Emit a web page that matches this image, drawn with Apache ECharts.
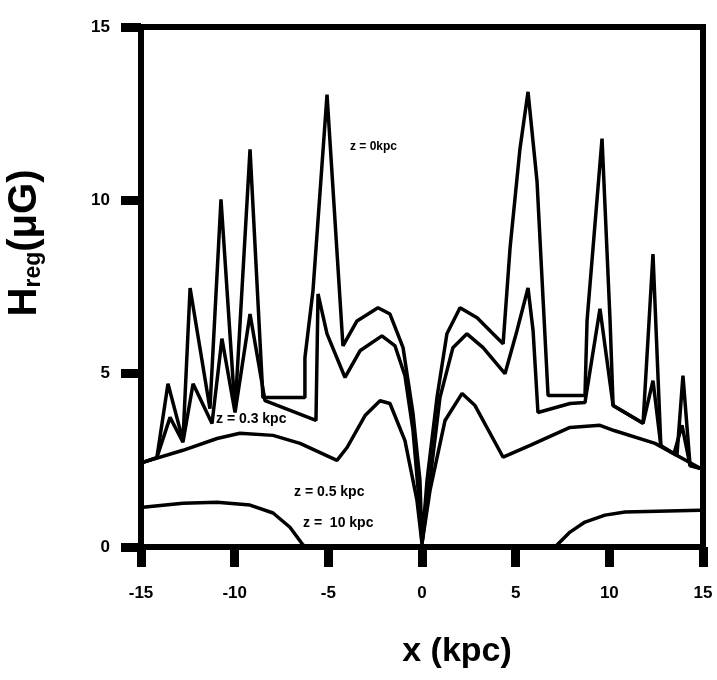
<!DOCTYPE html>
<html>
<head>
<meta charset="utf-8">
<script src="https://cdn.jsdelivr.net/npm/echarts@6/dist/echarts.min.js"></script>
<style>
  html, body { margin: 0; padding: 0; background: #fff; }
  #chart { width: 717px; height: 680px; }
</style>
</head>
<body>
<div id="chart"></div>
<script>
// field strength H_reg (uG) against x (kpc), one line per height z
const xTicks = [-15, -10, -5, 0, 5, 10, 15];
const yTicks = [0, 5, 10, 15];

const z0 = [
    [-14.9, 2.44], [-14.15, 2.58], [-13.56, 4.71], [-12.76, 3.07], [-12.38, 7.47],
    [-11.32, 3.99], [-10.73, 10.03], [-9.98, 3.94], [-9.18, 11.47], [-8.49, 4.31],
    [-6.25, 4.31], [-6.25, 5.46], [-5.82, 7.39], [-5.07, 13.05], [-4.22, 5.80],
    [-3.47, 6.52], [-2.35, 6.90], [-1.71, 6.72], [-1.01, 5.75], [-0.48, 3.85],
    [-0.11, 1.93], [0, 0.1], [0.27, 1.93], [0.80, 4.31], [1.33, 6.15], [2.03, 6.90],
    [2.94, 6.61], [3.79, 6.15], [4.33, 5.86], [4.70, 8.62], [5.23, 11.49], [5.66, 13.13],
    [6.14, 10.55], [6.46, 7.18], [6.73, 4.37], [8.70, 4.37], [8.81, 6.52], [9.61, 11.78],
    [10.04, 6.52], [10.20, 4.08], [11.80, 3.57], [12.33, 8.45], [12.75, 2.92],
    [13.61, 2.64], [13.93, 4.94], [14.31, 2.35], [14.85, 2.27]
];

const z03 = [
    [-14.9, 2.44], [-14.15, 2.58], [-13.45, 3.74], [-12.76, 3.02], [-12.22, 4.71],
    [-11.21, 3.56], [-10.68, 6.01], [-9.98, 3.88], [-9.18, 6.72], [-8.38, 4.22],
    [-5.66, 3.65], [-5.55, 7.30], [-5.07, 6.15], [-4.11, 4.89], [-3.31, 5.66],
    [-2.14, 6.09], [-1.44, 5.80], [-0.91, 4.94], [-0.48, 3.36], [-0.16, 1.35], [0, 0.1],
    [0.43, 1.93], [0.96, 4.31], [1.65, 5.75], [2.40, 6.15], [3.26, 5.75], [4.43, 5.00],
    [5.07, 6.24], [5.66, 7.47], [5.93, 6.24], [6.19, 3.88], [7.90, 4.14], [8.70, 4.17],
    [9.50, 6.87], [10.20, 4.08], [11.80, 3.57], [12.33, 4.80], [12.75, 2.92],
    [13.45, 2.69], [13.88, 3.51], [14.31, 2.35], [14.85, 2.27]
];

const z05 = [
    [-14.9, 2.44], [-12.76, 2.79], [-10.94, 3.13], [-9.72, 3.28], [-7.95, 3.22],
    [-6.51, 2.99], [-4.54, 2.50], [-4.00, 2.87], [-3.04, 3.79], [-2.24, 4.22],
    [-1.71, 4.14], [-0.91, 3.07], [-0.27, 1.35], [0, 0.1], [0.43, 1.64], [1.23, 3.65],
    [2.14, 4.43], [2.83, 4.08], [4.33, 2.59], [5.77, 2.93], [7.90, 3.45], [9.50, 3.51],
    [10.25, 3.36], [12.44, 2.99], [14.85, 2.27]
];

const z10 = [
    [-14.9, 1.15], [-12.76, 1.26], [-10.94, 1.29], [-9.18, 1.21], [-7.95, 0.98],
    [-7.05, 0.57], [-6.35, 0.06], [-6.2, 0], [7.1, 0], [7.9, 0.43], [8.7, 0.72],
    [9.77, 0.92], [10.84, 1.01], [14.85, 1.06]
];

const curveLabels = [
    { text: 'z = 0kpc', left: 350, top: 141, size: 12 },
    { text: 'z = 0.3 kpc', left: 216, top: 412, size: 14 },
    { text: 'z = 0.5 kpc', left: 294, top: 485, size: 14 },
    { text: 'z =  10 kpc', left: 303, top: 516, size: 14 }
];

const font = '"Liberation Sans", Arial, sans-serif';

const chart = echarts.init(document.getElementById('chart'));

function curve(name, data) {
    return {
        name: name,
        type: 'line',
        data: data,
        showSymbol: false,
        symbol: 'none',
        lineStyle: { color: '#000', width: 3.5 },
        z: 3
    };
}

chart.setOption({
    animation: false,
    backgroundColor: '#fff',
    grid: {
        left: 141, right: 14, top: 27, bottom: 133,
        outerBoundsMode: 'none',
        containLabel: false,
        show: true, borderColor: '#000', borderWidth: 6
    },
    xAxis: {
        type: 'value',
        min: xTicks[0], max: xTicks[xTicks.length - 1], interval: 5,
        name: 'x (kpc)',
        nameLocation: 'middle',
        nameGap: 88,
        nameTextStyle: { fontFamily: font, fontWeight: 'bold', fontSize: 34, color: '#000', padding: [0, 0, 0, 70] },
        axisLine: { show: true, onZero: false, lineStyle: { color: '#000', width: 6 } },
        axisTick: { show: true, inside: false, length: 20, lineStyle: { color: '#000', width: 9 } },
        axisLabel: { margin: 38, fontFamily: font, fontWeight: 'bold', fontSize: 17, color: '#000' },
        splitLine: { show: false }
    },
    yAxis: {
        type: 'value',
        min: yTicks[0], max: yTicks[yTicks.length - 1], interval: 5,
        name: '{h|H}{s|reg}{h|(μG)}',
        nameLocation: 'middle',
        nameGap: 96,
        nameRotate: 90,
        nameTextStyle: {
            color: '#000',
            padding: [0, 0, 0, 88],
            rich: {
                h: { fontFamily: font, fontWeight: 'bold', fontSize: 40, color: '#000' },
                s: { fontFamily: font, fontWeight: 'bold', fontSize: 23, color: '#000', padding: [18, 0, 0, 0] }
            }
        },
        axisLine: { show: true, onZero: false, lineStyle: { color: '#000', width: 6 } },
        axisTick: { show: true, inside: false, length: 20, lineStyle: { color: '#000', width: 9 } },
        axisLabel: { margin: 31, fontFamily: font, fontWeight: 'bold', fontSize: 17, color: '#000' },
        splitLine: { show: false }
    },
    series: [
        curve('z = 0 kpc', z0),
        curve('z = 0.3 kpc', z03),
        curve('z = 0.5 kpc', z05),
        curve('z = 10 kpc', z10)
    ],
    graphic: curveLabels.map(l => ({
        type: 'text',
        left: l.left,
        top: l.top,
        z: 10,
        style: { text: l.text, fill: '#000', font: 'bold ' + l.size + 'px ' + font }
    }))
});
</script>
</body>
</html>
